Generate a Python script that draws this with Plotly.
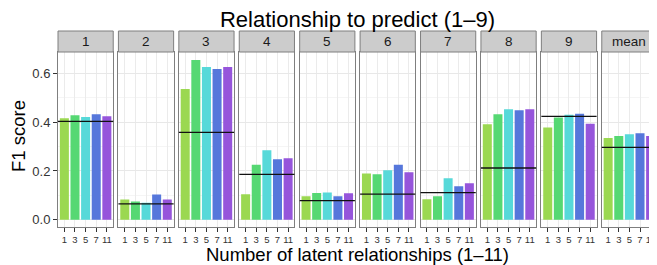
import plotly.graph_objects as go
from plotly.subplots import make_subplots

panels = ["1", "2", "3", "4", "5", "6", "7", "8", "9", "mean"]
latent = ["1", "3", "5", "7", "11"]
f1_p1 = [0.416, 0.428, 0.421, 0.433, 0.424]
f1_p2 = [0.083, 0.075, 0.070, 0.103, 0.083]
f1_p3 = [0.536, 0.655, 0.626, 0.618, 0.626]
f1_p4 = [0.104, 0.225, 0.285, 0.248, 0.252]
f1_p5 = [0.096, 0.110, 0.112, 0.096, 0.108]
f1_p6 = [0.190, 0.186, 0.203, 0.225, 0.195]
f1_p7 = [0.084, 0.096, 0.170, 0.137, 0.149]
f1_p8 = [0.392, 0.433, 0.453, 0.449, 0.453]
f1_p9 = [0.378, 0.419, 0.431, 0.435, 0.394]
f1_mean = [0.335, 0.343, 0.351, 0.355, 0.343]
baseline = [0.403, 0.065, 0.358, 0.186, 0.078, 0.105, 0.111, 0.212, 0.424, 0.297]

series = [f1_p1, f1_p2, f1_p3, f1_p4, f1_p5, f1_p6, f1_p7, f1_p8, f1_p9, f1_mean]
colors = ["#9BD851", "#56D873", "#57D9D9", "#5677DB", "#9655DB"]

# page has an 8px body margin, so figure is drawn at (8, 8)
W, H = 649, 257
ml, mr, mt, mb = 50, 0, 44, 38
pw = W - ml - mr
ph = H - mt - mb

fig = make_subplots(rows=1, cols=10, shared_yaxes=True, horizontal_spacing=5.2 / pw)

font = "Liberation Sans, Arial, sans-serif"
for i, (name, vals) in enumerate(zip(panels, series)):
    col = i + 1
    fig.add_trace(go.Bar(x=latent, y=vals, marker=dict(color=colors, line=dict(width=0)),
                         width=0.85, showlegend=False, hoverinfo="x+y"), row=1, col=col)
    sfx = "" if col == 1 else str(col)
    fig.add_shape(type="line", xref=f"x{sfx} domain", yref=f"y{sfx}", x0=0, x1=1,
                  y0=baseline[i], y1=baseline[i], line=dict(color="#111111", width=1.3))
    fig.add_shape(type="rect", xref=f"x{sfx} domain", yref="paper", x0=0, x1=1,
                  y0=1.0, y1=1 + 21 / ph, fillcolor="#CCCCCC", line=dict(color="#7F7F7F", width=1))
    fig.add_annotation(text=name, xref=f"x{sfx} domain", yref="paper", x=0.5, y=1 + 10.5 / ph,
                       showarrow=False, font=dict(size=13.5, color="#1A1A1A", family=font),
                       xanchor="center", yanchor="middle")

fig.update_xaxes(type="category", range=[-0.6, 4.6], showline=True, mirror=True,
                 linecolor="#7F7F7F", linewidth=1, showgrid=True, gridcolor="#EBEBEB",
                 gridwidth=1, ticks="outside", ticklen=4, tickcolor="#333333",
                 tickmode="array", tickvals=latent, ticktext=latent,
                 tickfont=dict(size=9.5, color="#333333", family=font), zeroline=False)
fig.update_yaxes(range=[-0.03, 0.688], showline=True, mirror=True, linecolor="#7F7F7F",
                 linewidth=1, showgrid=True, gridcolor="#E8E8E8", gridwidth=1,
                 tickvals=[0.0, 0.2, 0.4, 0.6], zeroline=False,
                 minor=dict(tickvals=[0.1, 0.3, 0.5], showgrid=True, gridcolor="#F5F5F5"))
fig.update_yaxes(ticks="outside", ticklen=4, tickcolor="#333333", tickformat=".1f",
                 tickfont=dict(size=13, color="#333333", family=font), row=1, col=1)

fig.update_layout(
    width=W, height=H,
    margin=dict(l=ml, r=mr, t=mt, b=mb, autoexpand=False),
    paper_bgcolor="white", plot_bgcolor="white",
    font=dict(family=font, color="#000000"),
    title=dict(text="Relationship to predict (1–9)", xref="paper", x=0.5, xanchor="center",
               y=1 - 11 / H, yanchor="middle", font=dict(size=22, family=font)),
)
fig.add_annotation(text="Number of latent relationships (1–11)", xref="paper", yref="paper",
                   x=0.5, y=-27 / ph, showarrow=False, xanchor="center",
                   yanchor="middle", font=dict(size=18.5, family=font))
fig.add_annotation(text="F1 score", xref="paper", yref="paper", x=-40 / pw,
                   y=0.52, showarrow=False, textangle=-90, xanchor="center", yanchor="middle",
                   font=dict(size=18.5, family=font))

fig.write_html("out.html")
